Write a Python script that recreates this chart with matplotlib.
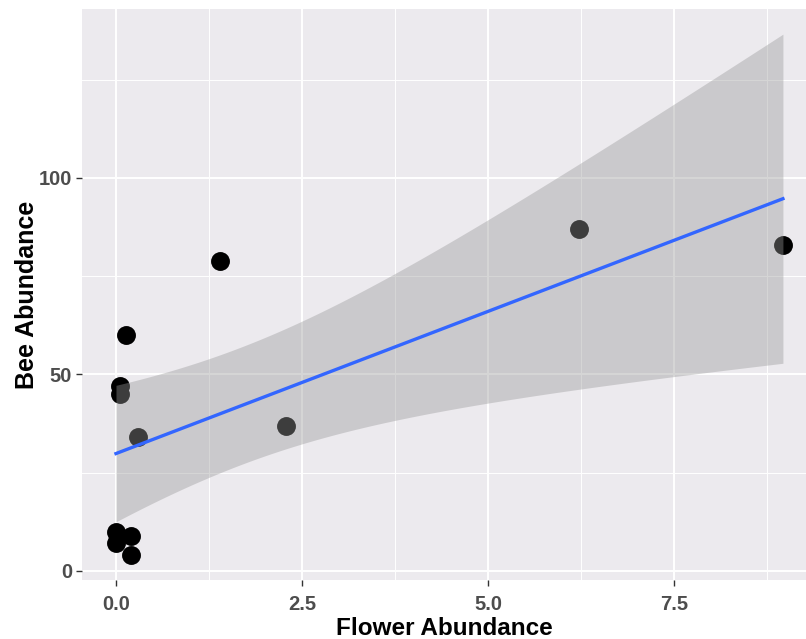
import numpy as np
import matplotlib
matplotlib.use("Agg")
import matplotlib.pyplot as plt

# Flower vs bee abundance per site
flower = np.array([0.0, 0.2, 0.0, 0.2, 0.06, 0.06, 0.3, 0.14, 1.4, 2.28, 6.22, 8.96])
bees = np.array([10, 9, 7, 4, 47, 45, 34, 60, 79, 37, 87, 83])

x_ticks = [0.0, 2.5, 5.0, 7.5]
x_tick_labels = ["0.0", "2.5", "5.0", "7.5"]
y_ticks = [0, 50, 100]

# Linear fit with 95% confidence band (t quantile for n - 2 = 10 df)
n = len(flower)
slope, intercept = np.polyfit(flower, bees, 1)
resid = bees - (intercept + slope * flower)
s = np.sqrt(np.sum(resid ** 2) / (n - 2))
sxx = np.sum((flower - flower.mean()) ** 2)
t_crit = 2.228

xs = np.linspace(flower.min(), flower.max(), 200)
fit = intercept + slope * xs
se = s * np.sqrt(1 / n + (xs - flower.mean()) ** 2 / sxx)
lower = fit - t_crit * se
upper = fit + t_crit * se

plt.rcParams["font.family"] = ["Liberation Sans", "DejaVu Sans"]

fig = plt.figure(figsize=(8.06, 6.39), dpi=100)
ax = fig.add_axes([0.1017, 0.0923, 0.8983, 0.8936])
ax.set_facecolor("#ECEAEE")

ax.scatter(flower, bees, s=185, color="black", zorder=3, linewidths=0)
ax.fill_between(xs, lower, upper, color="#999999", alpha=0.4, linewidth=0, zorder=4)
ax.plot(xs, fit, color="#3366FF", linewidth=2.4, zorder=5)

ax.set_xlim(-0.457, 9.27)
ax.set_ylim(-2.3, 143.0)

ax.set_xticks(x_ticks)
ax.set_xticklabels(x_tick_labels)
ax.set_yticks(y_ticks)
ax.set_xticks([1.25, 3.75, 6.25, 8.75], minor=True)
ax.set_yticks([25, 75, 125], minor=True)

ax.grid(which="major", color="white", linewidth=1.4, zorder=0)
ax.grid(which="minor", color="white", linewidth=0.7, zorder=0)
ax.set_axisbelow(True)

for spine in ax.spines.values():
    spine.set_visible(False)

ax.tick_params(which="major", length=4, width=1, color="#333333",
               labelsize=14.5, labelcolor="#4D4D4D")
ax.tick_params(axis="x", which="major", pad=7)
ax.tick_params(axis="y", which="major", pad=3)
ax.tick_params(which="minor", length=0)
for lab in ax.get_xticklabels() + ax.get_yticklabels():
    lab.set_fontweight("bold")

ax.set_xlabel("Flower Abundance", fontsize=17.5, fontweight="bold", labelpad=2)
ax.set_ylabel("Bee Abundance", fontsize=18, fontweight="bold", labelpad=0)

fig.savefig("out.png", dpi=100)
